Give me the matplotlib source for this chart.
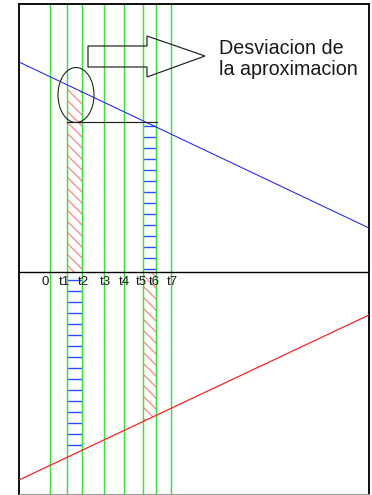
import matplotlib
matplotlib.use("Agg")
import matplotlib.pyplot as plt
from matplotlib.patches import Ellipse, Polygon
import numpy as np

# time marks (vertical green lines) and their labels
t_marks = [3.1, 4.8, 6.3, 8.5, 10.5, 12.4, 13.7, 15.2]
t_labels = ["0", "t1", "t2", "t3", "t4", "t5", "t6", "t7"]
label_shift = [-0.5, -0.3, 0.1, 0.1, 0.0, -0.2, -0.2, 0.1]

# falling (blue) and rising (red) lines, given by their end points
blue_x = [0, 35]
blue_y = [21.0, 4.4]
red_x = [0, 35]
red_y = [-20.8, -4.3]

# level of the approximation (flat line from t1 to t6)
approx_level = 15.0

# arrow outline and its caption
arrow_x = [6.9, 12.8, 12.8, 18.6, 12.8, 12.8, 6.9]
arrow_y = [22.6, 22.6, 23.6, 21.6, 19.5, 20.5, 20.5]
caption = ["Desviacion de", "la aproximacion"]

DPI = 66
plt.rcParams['font.family'] = ['Liberation Sans', 'DejaVu Sans']
plt.rcParams['hatch.linewidth'] = 1.5

fig = plt.figure(figsize=(372 / DPI, 495 / DPI), dpi=DPI)
ax = fig.add_axes([19 / 372, 1 / 495, 350 / 372, 490 / 495])
ax.set_xlim(0, 35)
ax.set_ylim(-22.2, 26.8)
ax.set_xticks([])
ax.set_yticks([])
for side in ['left', 'right', 'top']:
    ax.spines[side].set_linewidth(2.0)
    ax.spines[side].set_color('black')
ax.spines['bottom'].set_color('#999999')
ax.spines['bottom'].set_linewidth(1.2)

def line_at(xs, ys, x):
    return np.interp(x, xs, ys)

t1, t2, t5, t6 = t_marks[1], t_marks[2], t_marks[5], t_marks[6]

# top half: area under the blue line between t1 and t2
xs = np.linspace(t1, t2, 20)
ax.fill_between(xs, 0, line_at(blue_x, blue_y, xs), facecolor='none',
                edgecolor='#ff8c8c', hatch='\\\\', linewidth=0, zorder=1)
# top half: rectangle approximation between t5 and t6
ax.fill_between([t5, t6], 0, approx_level, facecolor='none',
                edgecolor='#2a4dff', hatch='-', linewidth=0, zorder=1)

# bottom half: rectangle between t1 and t2
ax.fill_between([t1, t2], line_at(red_x, red_y, t2), 0, facecolor='none',
                edgecolor='#2a4dff', hatch='-', linewidth=0, zorder=1)
# bottom half: area above red line between t5 and t6
xs = np.linspace(t5, t6, 20)
ax.fill_between(xs, line_at(red_x, red_y, xs), 0, facecolor='none',
                edgecolor='#ff8c8c', hatch='\\\\', linewidth=0, zorder=1)

for t in t_marks:
    ax.axvline(t, color='#3be03b', linewidth=1.6, zorder=2)

ax.axhline(0, color='black', linewidth=1.5, zorder=3)
ax.plot(blue_x, blue_y, color='#1a1aff', linewidth=1.1, zorder=3)
ax.plot(red_x, red_y, color='#ff1a1a', linewidth=1.3, zorder=3)

for t, lab, dx in zip(t_marks, t_labels, label_shift):
    ax.text(t + dx, -1.0, lab, ha='center', va='center', fontsize=14.5,
            color='#1a1a1a', zorder=4)

ax.plot([t1, t6 + 0.1], [approx_level, approx_level], color='#222222',
        linewidth=1.3, zorder=4)
ax.add_patch(Ellipse((5.7, 17.7), 3.6, 5.5, facecolor='none',
                     edgecolor='#222222', linewidth=1.2, zorder=4))
ax.add_patch(Polygon(list(zip(arrow_x, arrow_y)), closed=True, facecolor='none',
                     edgecolor='#222222', linewidth=1.3, zorder=4))

ax.text(20.0, 21.8, caption[0], ha='left', va='baseline', fontsize=21.5,
        color='#1a1a1a')
ax.text(20.0, 19.7, caption[1], ha='left', va='baseline', fontsize=21.5,
        color='#1a1a1a')

fig.savefig('out.png', dpi=DPI)
